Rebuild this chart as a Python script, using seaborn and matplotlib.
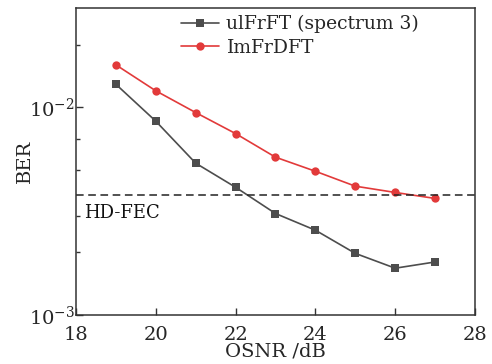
import numpy as np
import pandas as pd
import seaborn as sns
import matplotlib.pyplot as plt
from matplotlib.ticker import FixedLocator, NullFormatter

# data
osnr = [19, 20, 21, 22, 23, 24, 25, 26, 27]
ber_ulfrft = [0.0129, 0.00857, 0.00538, 0.00412, 0.00308, 0.00256, 0.00198, 0.00168, 0.00180]
ber_imfrdft = [0.0160, 0.0120, 0.00943, 0.00747, 0.00575, 0.00492, 0.00417, 0.00389, 0.00364]
hd_fec = 3.8e-3

labels = ['ulFrFT (spectrum 3)', 'ImFrDFT']
colors = ['#4d4d4d', '#e23a3a']
markers = ['s', 'o']

df = pd.concat([
    pd.DataFrame({'OSNR': osnr, 'BER': ber_ulfrft, 'method': labels[0]}),
    pd.DataFrame({'OSNR': osnr, 'BER': ber_imfrdft, 'method': labels[1]}),
])

sns.set_style('ticks')
plt.rcParams['font.family'] = ['DejaVu Serif']
plt.rcParams['mathtext.fontset'] = 'dejavuserif'

fig = plt.figure(figsize=(4.92, 3.64), dpi=100)
ax = fig.add_axes([0.1545, 0.1346, 0.8109, 0.843])

sns.lineplot(data=df, x='OSNR', y='BER', hue='method', style='method',
             hue_order=labels, style_order=labels,
             palette=colors, markers=markers, dashes=False,
             markersize=6, markeredgewidth=0, linewidth=1.2, ax=ax)

ax.axhline(hd_fec, color='#222222', linestyle=(0, (5, 3)), linewidth=1.1)
ax.text(18.2, 3.1e-3, 'HD-FEC', fontsize=13, va='center', ha='left', color='#111111')

ax.set_yscale('log')
ax.set_xlim(18, 28)
ax.set_ylim(1e-3, 3e-2)
ax.set_xticks([18, 20, 22, 24, 26, 28])
ax.set_yticks([1e-3, 1e-2])
ax.yaxis.set_minor_locator(FixedLocator([2e-3, 3e-3, 5e-3, 7e-3, 2e-2]))
ax.yaxis.set_minor_formatter(NullFormatter())
ax.tick_params(axis='both', which='both', direction='in', labelsize=14, width=1, color='#333333')
ax.tick_params(which='major', length=5)
ax.tick_params(which='minor', length=3)
ax.tick_params(axis='x', pad=8)
ax.tick_params(axis='y', pad=1)
for s in ax.spines.values():
    s.set_linewidth(1.1)
    s.set_color('#333333')

ax.set_xlabel('OSNR /dB', fontsize=14, labelpad=-1)
ax.set_ylabel('BER', fontsize=14)
ax.yaxis.set_label_coords(-0.105, 0.5)

leg = ax.legend(loc='upper left', bbox_to_anchor=(0.255, 0.99), frameon=False,
                fontsize=13.5, borderpad=0.2, borderaxespad=0, handlelength=2.0,
                handletextpad=0.4, labelspacing=0.3)

fig.savefig('out.png', dpi=100)
